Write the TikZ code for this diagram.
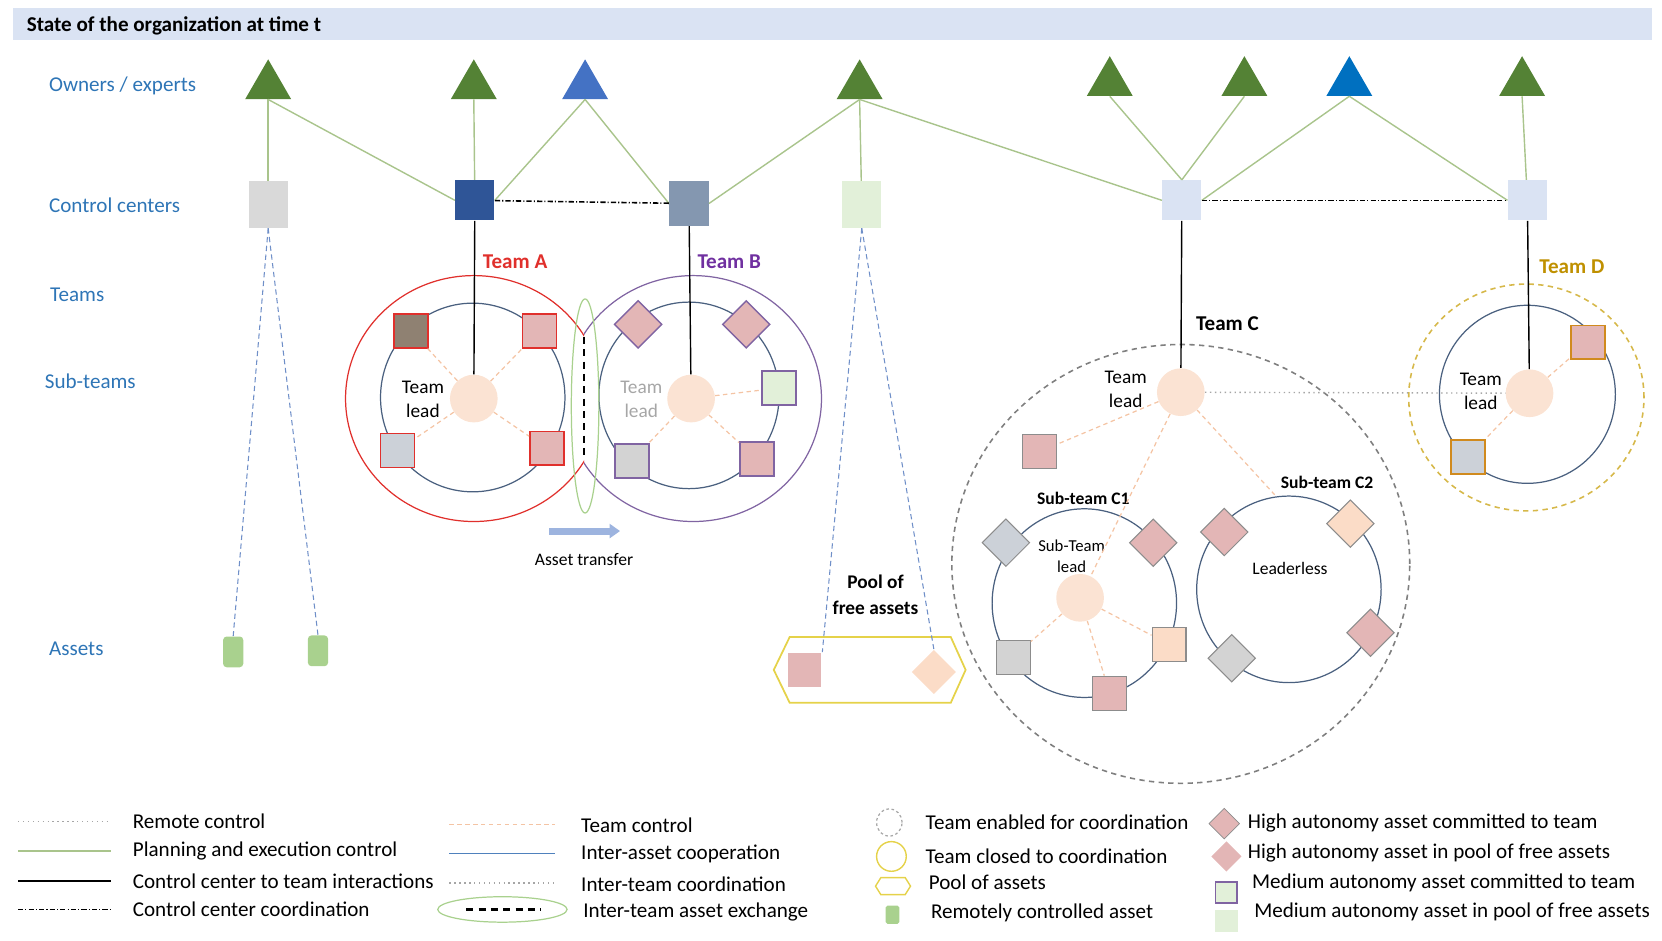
\documentclass[tikz,border=0pt]{standalone}
\usepackage{fontspec}
\setmainfont{Carlito}
\usetikzlibrary{shapes.geometric,arrows.meta}

\def\pxu{0.0212cm}

\definecolor{rowblue}{HTML}{2E75B6}
\definecolor{headband}{HTML}{DAE3F3}
\definecolor{ownergreen}{HTML}{548235}
\definecolor{ownerblue}{HTML}{4472C4}
\definecolor{ownerdeep}{HTML}{0070C0}
\definecolor{plangreen}{HTML}{A9C48C}
\definecolor{ccgrey}{HTML}{D9D9D9}
\definecolor{ccdark}{HTML}{2F5597}
\definecolor{ccslate}{HTML}{8497B0}
\definecolor{ccmint}{HTML}{E2F0D9}
\definecolor{ccpale}{HTML}{DAE3F3}
\definecolor{remoteblue}{HTML}{6F8FC8}
\definecolor{leadpeach}{HTML}{FBE3D3}
\definecolor{ctrlpeach}{HTML}{F4C4A4}
\definecolor{ringblue}{HTML}{4A607F}
\definecolor{coopblue}{HTML}{4F81BD}
\definecolor{teamred}{HTML}{E0302C}
\definecolor{teampurple}{HTML}{7030A0}
\definecolor{ringpurple}{HTML}{8064A2}
\definecolor{teamgold}{HTML}{BF9000}
\definecolor{ringgold}{HTML}{D6B84A}
\definecolor{boxorange}{HTML}{D08A1E}
\definecolor{poolyellow}{HTML}{E5D24A}
\definecolor{assetpink}{HTML}{E3B6B6}
\definecolor{assetpeach}{HTML}{FBDCC7}
\definecolor{assetgrey}{HTML}{D3D3D3}
\definecolor{assetmarble}{HTML}{CCD1D8}
\definecolor{assetgranite}{HTML}{8F8172}
\definecolor{assetmint}{HTML}{E2F0D9}
\definecolor{remotegreen}{HTML}{A9D18E}
\definecolor{arrowblue}{HTML}{9DB4DF}
\definecolor{dotgrey}{HTML}{A6A6A6}
\definecolor{opengrey}{HTML}{7F7F7F}
\definecolor{edgegrey}{HTML}{8C8C8C}

\begin{document}
\begin{tikzpicture}[
    x=\pxu, y=-\pxu,
    font=\fontsize{12}{14}\selectfont,
    rowlabel/.style={anchor=west, inner sep=0, text=rowblue},
    legtext/.style={anchor=west, inner sep=0},
    owner/.style={regular polygon, regular polygon sides=3, fill=#1, inner sep=0, minimum size=50*\pxu},
    ctrl/.style 2 args={rectangle, fill=#1, inner sep=0, minimum width=37*\pxu, minimum height=#2*\pxu},
    lead/.style={circle, fill=leadpeach, inner sep=0, minimum size=45*\pxu},
    ring/.style 2 args={ellipse, draw=ringblue, line width=0.7pt, inner sep=0, minimum width=#1*\pxu, minimum height=#2*\pxu},
    teamopen/.style={line width=0.9pt, dash pattern=on 3pt off 2.5pt},
    sq/.style 2 args={rectangle, draw=#1, fill=#2, line width=1pt, inner sep=0, minimum size=32*\pxu},
    dia/.style 2 args={diamond, draw=#1, fill=#2, line width=0.8pt, inner sep=0, minimum size=45*\pxu},
    rasset/.style={rectangle, rounded corners=2pt, fill=remotegreen, inner sep=0, minimum width=19*\pxu, minimum height=29*\pxu},
    plan/.style={draw=plangreen, line width=0.8pt},
    ccteam/.style={draw=black, line width=0.8pt},
    cccoord/.style={draw=black, line width=0.9pt, dash pattern=on 3pt off 1.2pt on 0.6pt off 1.2pt},
    remote/.style={draw=remoteblue, line width=0.6pt, dash pattern=on 3pt off 2pt},
    teamctrl/.style={draw=ctrlpeach, line width=0.7pt, dash pattern=on 2.5pt off 2pt},
    interteam/.style={draw=dotgrey, line width=0.8pt, dotted},
    coop/.style={draw=coopblue, line width=0.8pt},
    exchange/.style={draw=black, line width=1.6pt, dash pattern=on 4pt off 3pt},
    tlabel/.style={font=\fontsize{12}{14}\selectfont\bfseries},
    leadtext/.style={align=center, font=\fontsize{11}{13.5}\selectfont},
    smalltext/.style={align=center, font=\fontsize{10}{12}\selectfont}
  ]
  \useasboundingbox (0,0) rectangle (1568,887);

  % Header
  \node[fill=headband, anchor=north west, inner sep=0, minimum width=1546*\pxu, minimum height=30*\pxu] (band) at (12,7) {};
  \node[anchor=west, inner sep=0, font=\fontsize{12}{14}\selectfont\bfseries] (title) at (25,24) {State of the organization at time t};

  % Row labels
  \node[rowlabel] (rowowner) at (46,81) {Owners / experts};
  \node[rowlabel] (rowcc) at (46,194) {Control centers};
  \node[rowlabel] (rowteam) at (47,278) {Teams};
  \node[rowlabel] (rowsub) at (42,360) {Sub-teams};
  \node[rowlabel] (rowasset) at (46,612) {Assets};

  % Owners / experts
  \foreach \n/\x/\y/\col in {1/253/81/ownergreen, 2/447/81/ownergreen, 3/552/81/ownerblue, 4/811/81/ownergreen,
                             5/1047/78/ownergreen, 6/1174/78/ownergreen, 7/1273/78/ownerdeep, 8/1436/78/ownergreen}
    \node[owner=\col] (o\n) at (\x,\y) {};

  % Control centers
  \foreach \n/\x/\y/\col/\h in {1/253/193/ccgrey/44, 2/448/189/ccdark/38, 3/650/192/ccslate/42,
                                4/813/193/ccmint/44, 5/1115/189/ccpale/38, 6/1441/189/ccpale/38}
    \node[ctrl={\col}{\h}] (cc\n) at (\x,\y) {};

  % Connect every owner with the control centers it plans for
  \foreach \o/\c in {o1/cc1, o1/cc2.west, o2/cc2, o3/cc2.east, o3/cc3.west, o4/cc3.east, o4/cc4, o4/cc5.west,
                     o5/cc5.north, o6/cc5.north, o7/cc5.east, o7/cc6.west, o8/cc6}
    \draw[plan] (\o.side 2) -- (\c);

  \draw[cccoord] (cc2) -- (cc3);
  \draw[cccoord] (cc5) -- (cc6);

  % Remotely controlled assets
  \node[rasset] (g1) at (220,615) {};
  \node[rasset] (g2) at (300,614) {};
  \draw[remote] (cc1.south) -- (g1.north);
  \draw[remote] (cc1.south) -- (g2.north);

  % Team A
  \begin{scope}
    \clip (0,0) rectangle (551,887);
    \node[ring={242}{232}, draw=teamred] (teamA) at (447,376) {};
  \end{scope}
  \node[ring={174}{178}] (ringA) at (446,375) {};
  \node[lead] (leadA) at (447,376) {};
  \node[leadtext] (txtA) at (399,377) {Team\\lead};
  \node[tlabel, text=teamred] (lblA) at (486,247) {Team A};
  \node[sq={teamred}{assetgranite}] (a1) at (388,312) {};
  \node[sq={teamred}{assetpink}] (a2) at (509,312) {};
  \node[sq={teamred}{assetmarble}] (a3) at (375,425) {};
  \node[sq={teamred}{assetpink}] (a4) at (516,423) {};
  \foreach \a in {a1,a2,a3,a4}
    \draw[teamctrl] (leadA) -- (\a);
  \draw[ccteam] (cc2) -- (leadA);

  % Team B
  \begin{scope}
    \clip (551,0) rectangle (1568,887);
    \node[ring={242}{232}, draw=ringpurple] (teamB) at (654,376) {};
  \end{scope}
  \node[ring={170}{176}] (ringB) at (650,373) {};
  \node[lead] (leadB) at (652,376) {};
  \node[leadtext, text=dotgrey] (txtB) at (605,377) {Team\\lead};
  \node[tlabel, text=teampurple] (lblB) at (688,247) {Team B};
  \node[dia={ringpurple}{assetpink}] (b1) at (602,306) {};
  \node[dia={ringpurple}{assetpink}] (b2) at (704,306) {};
  \node[sq={ringpurple}{assetmint}] (b3) at (735,366) {};
  \node[sq={ringpurple}{assetgrey}] (b4) at (596,435) {};
  \node[sq={ringpurple}{assetpink}] (b5) at (714,433) {};
  \foreach \b in {b3,b4,b5}
    \draw[teamctrl] (leadB) -- (\b);
  \draw[ccteam] (cc3) -- (leadB);

  % Asset exchange between Team A and Team B
  \node[ellipse, draw=remotegreen, line width=0.7pt, inner sep=0, minimum width=26*\pxu, minimum height=202*\pxu] (xchg) at (552,383) {};
  \coordinate (xtop) at (551,318);
  \coordinate (xbot) at (551,434);
  \draw[exchange] (xtop) -- (xbot);
  \coordinate (trs) at (518,501);
  \coordinate (tre) at (585,501);
  \draw[draw=arrowblue, line width=4pt, -{Triangle[length=6pt, width=8pt]}] (trs) -- (tre);
  \node[smalltext] (txttr) at (551,528) {Asset transfer};

  % Pool of free assets
  \node[align=center, font=\fontsize{11}{14.4}\selectfont\bfseries] (lblpool) at (826,561) {Pool of\\free assets};
  \draw[draw=poolyellow, line width=1pt] (730,632) -- ++(15,-31) -- ++(152,0) -- ++(14,31) -- ++(-14,31) -- ++(-152,0) -- cycle;
  \node[sq={none}{assetpink}] (psq) at (759,632) {};
  \node[dia={none}{assetpeach}, minimum size=42*\pxu] (pdia) at (881,634) {};
  \draw[remote] (cc4.south) -- (psq.north east);
  \draw[remote] (cc4.south) -- (pdia.north);

  % Team C
  \node[ring={432}{414}, draw=opengrey, teamopen] (teamC) at (1114,532) {};
  \node[lead] (leadC) at (1114,370) {};
  \node[leadtext] (txtC) at (1062,367) {Team\\lead};
  \node[tlabel] (lblC) at (1158,305) {Team C};
  \node[sq={edgegrey}{assetpink}, line width=0.7pt] (c0) at (981,426) {};
  \draw[ccteam] (cc5) -- (leadC);

  % Sub-team C1
  \node[ring={174}{178}] (subC1) at (1023,569) {};
  \node[font=\fontsize{10}{12}\selectfont\bfseries] (lblC1) at (1022,470) {Sub-team C1};
  \node[lead] (leadC1) at (1019,564) {};
  \node[align=center, font=\fontsize{9.5}{12}\selectfont] (txtC1) at (1011,525) {Sub-Team\\lead};
  \node[dia={edgegrey}{assetmarble}, line width=0.6pt] (c1) at (949,512) {};
  \node[dia={edgegrey}{assetpink}, line width=0.6pt] (c2) at (1088,512) {};
  \node[sq={edgegrey}{assetgrey}, line width=0.7pt] (c3) at (956,620) {};
  \node[sq={edgegrey}{assetpeach}, line width=0.7pt] (c4) at (1103,608) {};
  \node[sq={edgegrey}{assetpink}, line width=0.7pt] (c5) at (1047,654) {};
  \foreach \c in {c3,c4,c5}
    \draw[teamctrl] (leadC1) -- (\c);

  % Sub-team C2
  \node[ring={174}{176}] (subC2) at (1216,556) {};
  \node[font=\fontsize{10}{12}\selectfont\bfseries] (lblC2) at (1252,455) {Sub-team C2};
  \node[smalltext] (txtC2) at (1217,536) {Leaderless};
  \node[dia={edgegrey}{assetpink}, line width=0.6pt] (d1) at (1155,502) {};
  \node[dia={edgegrey}{assetpeach}, line width=0.6pt] (d2) at (1274,494) {};
  \node[dia={edgegrey}{assetpink}, line width=0.6pt] (d3) at (1293,597) {};
  \node[dia={edgegrey}{assetgrey}, line width=0.6pt] (d4) at (1162,621) {};

  \draw[teamctrl] (leadC) -- (c0);
  \draw[teamctrl] (leadC) -- (leadC1);
  \draw[teamctrl] (leadC) -- (lblC2.south west);

  % Team D
  \node[ring={222}{214}, draw=ringgold, teamopen] (teamD) at (1440,375) {};
  \node[ring={166}{168}] (ringD) at (1441,372) {};
  \node[lead] (leadD) at (1443,371) {};
  \node[leadtext] (txtD) at (1397,369) {Team\\lead};
  \node[tlabel, text=teamgold] (lblD) at (1483,252) {Team D};
  \node[sq={boxorange}{assetpink}] (e1) at (1498,323) {};
  \node[sq={boxorange}{assetmarble}] (e2) at (1385,431) {};
  \foreach \e in {e1,e2}
    \draw[teamctrl] (leadD) -- (\e);
  \draw[ccteam] (cc6) -- (leadD);

  % Coordination between Team C and Team D
  \draw[interteam] (leadC) -- (leadD);

  % Legend: connectors
  \foreach \i/\y/\sty/\txt in {1/775/interteam/Remote control, 2/803/plan/Planning and execution control,
                               3/831/ccteam/Control center to team interactions, 4/858/cccoord/Control center coordination}{
    \coordinate (lga-\i) at (17,\y);
    \coordinate (lgb-\i) at (105,\y);
    \draw[\sty] (lga-\i) -- (lgb-\i);
    \node[legtext] (lgt-\i) at (125,\y) {\txt};
  }
  \foreach \i/\y/\sty/\txt in {5/778/teamctrl/Team control, 6/805/coop/Inter-asset cooperation,
                               7/833/interteam/Inter-team coordination}{
    \coordinate (lga-\i) at (424,\y);
    \coordinate (lgb-\i) at (524,\y);
    \draw[\sty] (lga-\i) -- (lgb-\i);
    \node[legtext] (lgt-\i) at (548,\y+1) {\txt};
  }
  \node[ellipse, draw=remotegreen, line width=0.7pt, inner sep=0, minimum width=122*\pxu, minimum height=24*\pxu] (lgx) at (474,858) {};
  \coordinate (lga-8) at (440,858);
  \coordinate (lgb-8) at (510,858);
  \draw[exchange] (lga-8) -- (lgb-8);
  \node[legtext] (lgt-8) at (550,860) {Inter-team asset exchange};

  % Legend: teams and assets
  \node[ellipse, draw=dotgrey, line width=0.7pt, dash pattern=on 1.5pt off 1.5pt, inner sep=0, minimum width=24*\pxu, minimum height=26*\pxu] (lgopen) at (839,776) {};
  \node[legtext] (lgt-9) at (873,776) {Team enabled for coordination};
  \node[ellipse, draw=poolyellow, line width=0.8pt, inner sep=0, minimum width=28*\pxu, minimum height=28*\pxu] (lgclosed) at (841,808) {};
  \node[legtext] (lgt-10) at (873,808) {Team closed to coordination};
  \draw[draw=poolyellow, line width=0.8pt] (826,836) -- ++(5,-8) -- ++(23,0) -- ++(5,8) -- ++(-5,8) -- ++(-23,0) -- cycle;
  \node[legtext] (lgt-11) at (876,832) {Pool of assets};
  \node[rasset, rounded corners=1pt, minimum width=13*\pxu, minimum height=17*\pxu] (lgremote) at (842,863) {};
  \node[legtext] (lgt-12) at (878,861) {Remotely controlled asset};

  \node[dia={edgegrey}{assetpink}, line width=0.4pt, minimum size=29*\pxu] (lghigh) at (1155,777) {};
  \node[legtext] (lgt-13) at (1177,776) {High autonomy asset committed to team};
  \node[dia={none}{assetpink}, minimum size=29*\pxu] (lghighfree) at (1157,808) {};
  \node[legtext] (lgt-14) at (1177,805) {High autonomy asset in pool of free assets};
  \node[sq={ringpurple}{assetmint}, line width=0.8pt, minimum size=20*\pxu] (lgmed) at (1157,842) {};
  \node[legtext] (lgt-15) at (1181,833) {Medium autonomy asset committed to team};
  \node[sq={none}{assetmint}, minimum size=21*\pxu] (lgmedfree) at (1157,869) {};
  \node[legtext] (lgt-16) at (1183,860) {Medium autonomy asset in pool of free assets};
\end{tikzpicture}
\end{document}
